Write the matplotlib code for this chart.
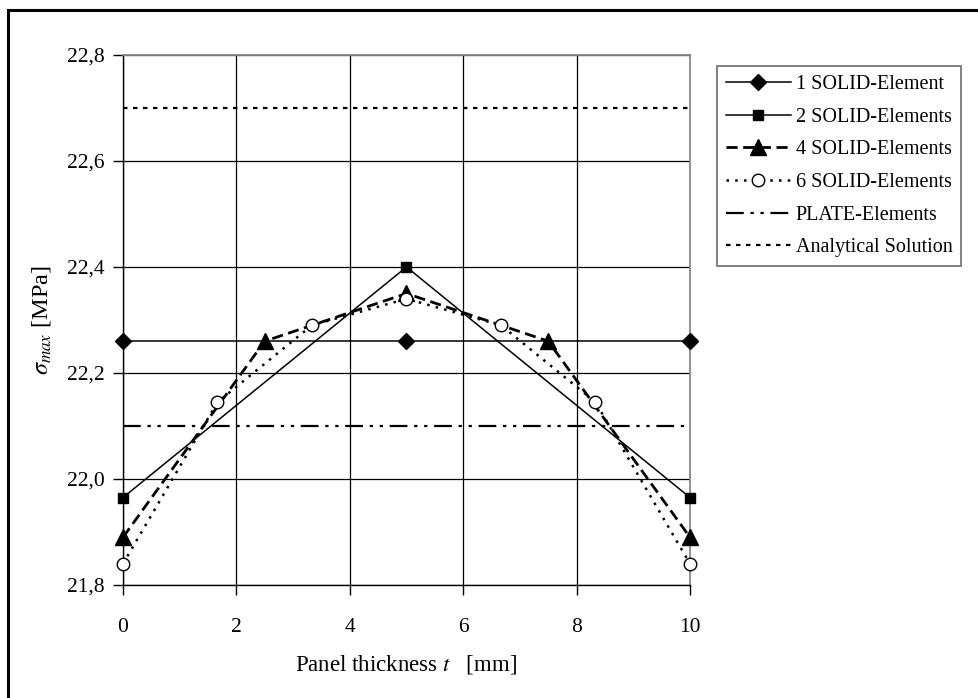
import matplotlib
matplotlib.use("Agg")
import matplotlib.pyplot as plt
from matplotlib.patches import Rectangle
from matplotlib.ticker import FuncFormatter, MultipleLocator

plt.rcParams['font.family'] = ['Liberation Serif', 'DejaVu Serif']
plt.rcParams['mathtext.fontset'] = 'stix'

# ---- data
x_1 = [0, 5, 10]
y_1 = [22.26, 22.26, 22.26]
x_2 = [0, 5, 10]
y_2 = [21.965, 22.40, 21.965]
x_4 = [0, 2.5, 5, 7.5, 10]
y_4 = [21.89, 22.26, 22.35, 22.26, 21.89]
x_6 = [0, 1.667, 3.333, 5, 6.667, 8.333, 10]
y_6 = [21.84, 22.145, 22.29, 22.34, 22.29, 22.145, 21.84]
x_plate = [0, 10]
y_plate = [22.10, 22.10]
x_anal = [0, 10]
y_anal = [22.70, 22.70]

labels = ['1 SOLID-Element', '2 SOLID-Elements', '4 SOLID-Elements',
          '6 SOLID-Elements', 'PLATE-Elements', 'Analytical Solution']

fig = plt.figure(figsize=(9.79, 6.98), dpi=100)
ax = fig.add_axes([0.1256, 0.1619, 0.5792, 0.7593])

ax.plot(x_1, y_1, color='k', lw=1.1, marker='D', ms=8, label=labels[0], zorder=5)
ax.plot(x_2, y_2, color='k', lw=1.1, marker='s', ms=7, label=labels[1], zorder=5)
ax.plot(x_4, y_4, color='k', lw=2, ls=(0, (4, 2)), marker='^', ms=11, label=labels[2], zorder=5)
ax.plot(x_6, y_6, color='k', lw=1.8, ls=(0, (1, 2.5)), marker='o', ms=9, mfc='white', mew=1,
        label=labels[3], zorder=5)
ax.plot(x_plate, y_plate, color='k', lw=1.6, ls=(0, (8, 3, 1.5, 3, 1.5, 3)), label=labels[4], zorder=4)
ax.plot(x_anal, y_anal, color='k', lw=1.6, ls=(0, (2, 2.5)), label=labels[5], zorder=4)

ax.set_xlim(0, 10)
ax.set_ylim(21.8, 22.8)
ax.xaxis.set_major_locator(MultipleLocator(2))
ax.yaxis.set_major_locator(MultipleLocator(0.2))
ax.yaxis.set_major_formatter(FuncFormatter(lambda v, p: f'{v:.1f}'.replace('.', ',')))
ax.xaxis.set_major_formatter(FuncFormatter(lambda v, p: f'{v:.0f}'))
ax.grid(True, color='k', lw=0.9)
ax.set_axisbelow(True)
ax.tick_params(direction='out', length=7, width=1, labelsize=15.5, pad=6)
ax.tick_params(axis='x', pad=17)
for s in ['top', 'right']:
    ax.spines[s].set_color('#888888')
    ax.spines[s].set_linewidth(1.3)
for s in ['left', 'bottom']:
    ax.spines[s].set_color('k')
    ax.spines[s].set_linewidth(1)
ax.margins(0)

ax.set_xlabel('Panel thickness $t$   [mm]', fontsize=16.5, labelpad=11)
ax.set_ylabel(r'$\sigma_{max}$ [MPa]', fontsize=17.5, labelpad=10)

for ln in ax.lines:
    ln.set_clip_on(False)

leg = ax.legend(loc='upper left', bbox_to_anchor=(0.7324, 0.9054), bbox_transform=fig.transFigure,
                fontsize=14.5, handlelength=3.2, labelspacing=0.67, borderpad=0.45,
                handletextpad=0.25, frameon=True, fancybox=False, borderaxespad=0)
leg.get_frame().set_edgecolor('#555555')
leg.get_frame().set_linewidth(1.3)

# outer frame (only top and left edges visible)
fig.patches.append(Rectangle((8 / 979, -0.1), 1.2, (698 - 10) / 698 + 0.1,
                             transform=fig.transFigure, fill=False, ec='k', lw=2.2))

fig.savefig('out.png', dpi=100, facecolor='w')
